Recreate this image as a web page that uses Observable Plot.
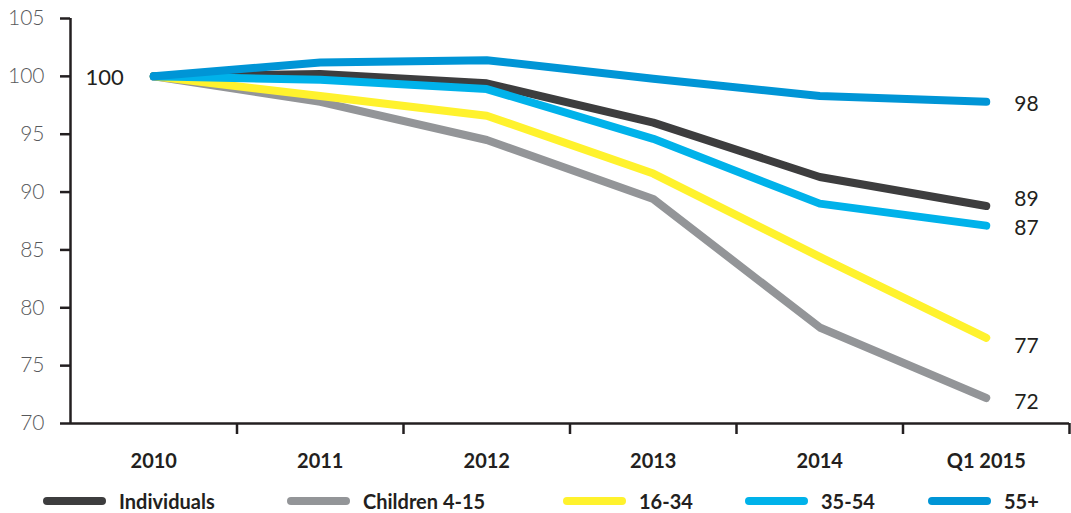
<!DOCTYPE html>
<html>
<head>
<meta charset="utf-8">
<script src="https://cdn.jsdelivr.net/npm/d3@7"></script>
<script src="https://cdn.jsdelivr.net/npm/@observablehq/plot@0.6"></script>
<style>
  html, body { margin: 0; padding: 0; background: #fff; }
  #wrap { position: relative; width: 1071px; height: 513px; font-family: Lato, "Open Sans", sans-serif; }
  #legend { position: absolute; left: 0; top: 485px; width: 1071px; height: 31px; }
  .item { position: absolute; top: 0; height: 31px; display: flex; align-items: center; }
  .sw { width: 63px; height: 8px; border-radius: 4px; margin-right: 13px; }
  .lb { font-weight: 700; font-size: 20px; color: #231f20; }
</style>
</head>
<body>
<div id="wrap"><div id="chart"></div><div id="legend"></div></div>
<script>
const categories = ["2010", "2011", "2012", "2013", "2014", "Q1 2015"];
const seriesNames = ["Individuals", "Children 4-15", "16-34", "35-54", "55+"];
const individuals = [100, 100.2, 99.4, 96.0, 91.3, 88.8];
const children = [100, 97.8, 94.5, 89.4, 78.3, 72.2];
const age16to34 = [100, 98.3, 96.6, 91.6, 84.4, 77.4];
const age35to54 = [100, 99.7, 98.9, 94.6, 89.0, 87.1];
const age55plus = [100, 101.2, 101.4, 99.8, 98.3, 97.8];
const endLabels = ["89", "72", "77", "87", "98"];
const colors = ["#3d3d3e", "#939598", "#fff22d", "#00b2ea", "#0095d6"];
const yTicks = [70, 75, 80, 85, 90, 95, 100, 105];

const valuesBySeries = [individuals, children, age16to34, age35to54, age55plus];
const data = seriesNames.map((s, k) => valuesBySeries[k].map((v, i) => ({series: s, i, value: v}))).flat();
const drawOrder = ["Children 4-15", "16-34", "Individuals", "35-54", "55+"];
const labelDy = {"Individuals": -7, "Children 4-15": 4, "16-34": 8, "35-54": 3, "55+": 2};
const ink = "#231f20";

const lineMarks = drawOrder.map(s => Plot.line(data.filter(d => d.series === s), {
  x: "i", y: "value", stroke: colors[seriesNames.indexOf(s)], strokeWidth: 8,
  strokeLinecap: "round", strokeLinejoin: "round"
}));

const endMarks = seriesNames.map((s, k) => Plot.text([data.find(d => d.series === s && d.i === categories.length - 1)], {
  x: "i", y: "value", text: () => endLabels[k], textAnchor: "start", dx: 28, dy: labelDy[s],
  fontSize: 21, fill: ink
}));

const chart = Plot.plot({
  width: 1071, height: 482,
  marginLeft: 70, marginRight: 2, marginTop: 18, marginBottom: 59,
  style: {fontFamily: "Lato, 'Open Sans', sans-serif", color: ink, background: "#fff"},
  x: {type: "linear", domain: [-0.5, categories.length - 0.5]},
  y: {domain: [70, 105]},
  marks: [
    Plot.axisY({ticks: yTicks, tickSize: 10, tickPadding: 16, fontSize: 21, fill: "#58595b", stroke: ink, strokeWidth: 2.5, label: null, fontWeight: 300}),
    Plot.axisX({ticks: d3.range(categories.length).map(i => i + 0.5), tickSize: 11, tickFormat: () => "", stroke: ink, strokeWidth: 2.5, label: null}),
    Plot.axisX({ticks: d3.range(categories.length), tickSize: 0, tickPadding: 30, tickFormat: i => categories[i], fontSize: 20, fontWeight: 700, fill: ink, label: null}),
    Plot.ruleX([-0.5], {y1: 70, y2: 105, stroke: ink, strokeWidth: 2.5}),
    Plot.ruleY([70], {stroke: ink, strokeWidth: 2.5}),
    ...lineMarks,
    Plot.text([{i: 0, value: 100}], {x: "i", y: "value", text: () => "100", textAnchor: "end", dx: -30, dy: 2, fontSize: 22, fill: ink}),
    ...endMarks
  ]
});
document.getElementById("chart").appendChild(chart);

const legendLeft = [43, 287, 563, 745, 928];
const legend = document.getElementById("legend");
seriesNames.forEach((s, k) => {
  const it = document.createElement("div");
  it.className = "item";
  it.style.left = legendLeft[k] + "px";
  it.innerHTML = `<div class="sw" style="background:${colors[k]}"></div><span class="lb">${s}</span>`;
  legend.appendChild(it);
});
</script>
</body>
</html>
